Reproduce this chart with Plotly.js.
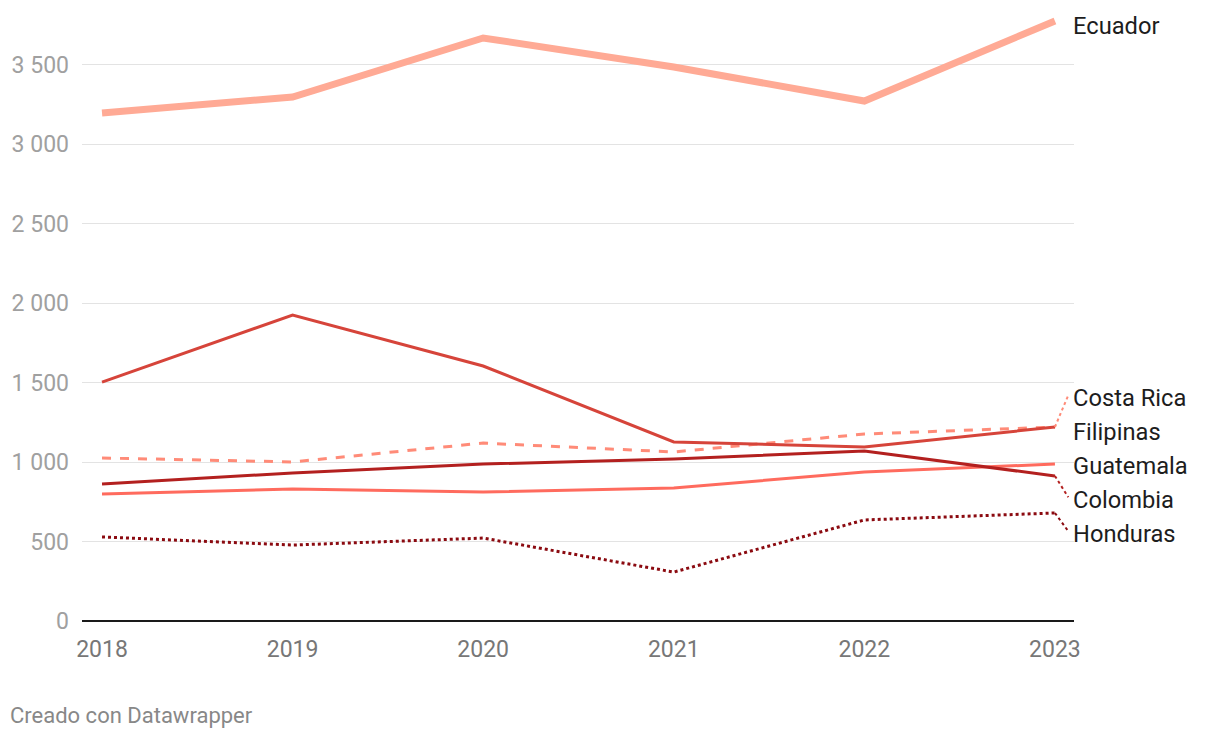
<!DOCTYPE html>
<html>
<head>
<meta charset="utf-8">
<script src="https://cdn.plot.ly/plotly-3.0.1.min.js"></script>
<style>
html,body{margin:0;padding:0;background:#fff;}
#chart{width:1220px;height:738px;}
</style>
</head>
<body>
<div id="chart"></div>
<script>
const years = [2018, 2019, 2020, 2021, 2022, 2023];
const ecuador   = [3198, 3298, 3670, 3487, 3273, 3777];
const filipinas = [1504, 1926, 1605, 1127, 1095, 1221];
const costaRica = [1026, 1001, 1120, 1064, 1177, 1221];
const guatemala = [800, 831, 812, 837, 938, 988];
const colombia  = [862, 932, 988, 1020, 1070, 913];
const honduras  = [529, 478, 522, 308, 636, 680];
const yTicks = [0, 500, 1000, 1500, 2000, 2500, 3000, 3500];

const seriesList = [
  {name: 'Honduras',   y: honduras,  color: '#8b0a10', width: 3, dash: 'dot',  labelY: 545},
  {name: 'Guatemala',  y: guatemala, color: '#ff6b5e', width: 3, dash: 'solid', labelY: 973},
  {name: 'Colombia',   y: colombia,  color: '#b3201f', width: 3, dash: 'solid', labelY: 759},
  {name: 'Costa Rica', y: costaRica, color: '#ff8b78', width: 3, dash: 'dash', labelY: 1401},
  {name: 'Filipinas',  y: filipinas, color: '#d6443a', width: 3, dash: 'solid', labelY: 1187},
  {name: 'Ecuador',    y: ecuador,   color: '#ffaa95', width: 7, dash: 'solid', labelY: 3743}
];

const traces = seriesList.map(s => ({
  x: years, y: s.y, type: 'scatter', mode: 'lines', name: s.name,
  line: {color: s.color, width: s.width, dash: s.dash, shape: 'linear'},
  hoverinfo: 'skip'
}));

const lastX = years[years.length - 1];
const annotations = seriesList.map(s => ({
  x: lastX + 0.1, y: s.labelY, xref: 'x', yref: 'y', text: s.name,
  showarrow: false, xanchor: 'left', yanchor: 'middle', xshift: -3,
  font: {family: 'Roboto', size: 23.7, color: '#1d1d1d'}
}));
annotations.push({
  x: 0, y: 0, xref: 'paper', yref: 'paper', xanchor: 'left', yanchor: 'top',
  xshift: -74, yshift: -80, text: 'Creado con Datawrapper', showarrow: false,
  font: {family: 'Roboto', size: 22, color: '#888888'}
});

const shapes = [];
seriesList.forEach(s => {
  const endV = s.y[s.y.length - 1];
  if (Math.abs(endV - s.labelY) > 60) {
    shapes.push({type: 'line', xref: 'x', yref: 'y', x0: lastX, y0: endV, x1: lastX + 0.07, y1: s.labelY + 20,
      line: {color: s.color, width: 2, dash: 'dot'}});
  }
});

const layout = {
  width: 1220, height: 738,
  margin: {l: 82, r: 146, t: 10, b: 117},
  paper_bgcolor: '#fff', plot_bgcolor: '#fff',
  separators: ', ',
  showlegend: false,
  font: {family: 'Roboto', color: '#999'},
  xaxis: {
    range: [2017.895, 2023.1], tickvals: years, ticktext: years.map(String),
    showgrid: false, zeroline: false, showline: false, ticks: '',
    tickfont: {family: 'Roboto', size: 23, color: '#777'}, ticklabelstandoff: 12
  },
  yaxis: {
    range: [0, 3846], tickvals: yTicks, tickformat: ',d',
    showgrid: true, gridcolor: '#e3e3e3', gridwidth: 1,
    zeroline: true, zerolinecolor: '#1a1a1a', zerolinewidth: 2,
    showline: false, ticks: '', ticklabelstandoff: 12,
    tickfont: {family: 'Roboto', size: 23, color: '#a0a0a0'}
  },
  annotations: annotations,
  shapes: shapes
};

Plotly.newPlot('chart', traces, layout, {displayModeBar: false, staticPlot: true});
</script>
</body>
</html>
